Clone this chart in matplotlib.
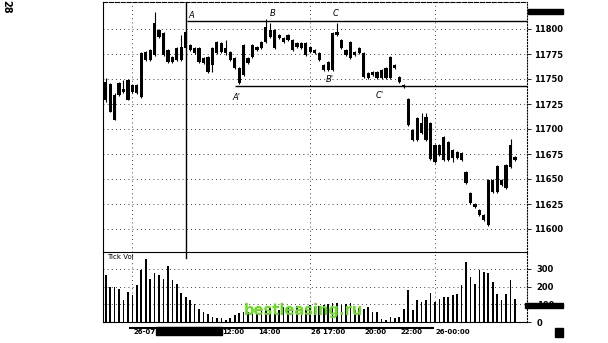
import matplotlib
matplotlib.use('Agg')
import matplotlib.pyplot as plt
from matplotlib.patches import Rectangle
from matplotlib.lines import Line2D
import numpy as np

# 15 minute bars, bar 0 = 05:30
opens = [11747, 11745, 11734, 11746, 11740, 11749, 11744, 11744, 11732, 11777,
         11769, 11774, 11799, 11796, 11779, 11772, 11769, 11769, 11781, 11784,
         11781, 11781, 11771, 11772, 11764, 11776, 11777, 11781, 11777, 11771,
         11761, 11754, 11771, 11772, 11779, 11781, 11787, 11799, 11799, 11794,
         11791, 11789, 11789, 11786, 11786, 11786, 11782, 11779, 11776, 11764,
         11759, 11759, 11797, 11789, 11779, 11787, 11777, 11781, 11776, 11756,
         11757, 11757, 11759, 11761, 11772, 11764, 11752, 11744, 11730, 11699,
         11689, 11706, 11689, 11706, 11684, 11684, 11669, 11687, 11679, 11677,
         11676, 11657, 11636, 11625, 11619, 11614, 11604, 11637, 11637, 11649,
         11641, 11662, 11672]
closes = [11729, 11717, 11709, 11734, 11737, 11729, 11737, 11736, 11776, 11769,
          11779, 11806, 11792, 11774, 11767, 11767, 11781, 11782, 11797, 11779,
          11776, 11767, 11766, 11757, 11781, 11787, 11786, 11776, 11769, 11761,
          11746, 11784, 11766, 11784, 11782, 11787, 11802, 11792, 11781, 11791,
          11787, 11794, 11779, 11782, 11781, 11774, 11777, 11776, 11769, 11759,
          11767, 11796, 11794, 11781, 11774, 11771, 11774, 11776, 11752, 11751,
          11754, 11751, 11751, 11751, 11751, 11761, 11747, 11742, 11704, 11689,
          11711, 11696, 11712, 11670, 11667, 11674, 11692, 11669, 11671, 11671,
          11669, 11646, 11626, 11622, 11614, 11609, 11649, 11649, 11663, 11644,
          11664, 11684, 11669]
highs = [11751, 11746, 11736, 11747, 11749, 11750, 11745, 11745, 11777, 11778,
         11780, 11817, 11800, 11797, 11780, 11773, 11782, 11794, 11798, 11785,
         11782, 11782, 11772, 11773, 11782, 11788, 11787, 11789, 11778, 11772,
         11762, 11785, 11772, 11785, 11783, 11788, 11810, 11806, 11800, 11795,
         11792, 11795, 11790, 11787, 11787, 11787, 11783, 11780, 11777, 11765,
         11768, 11797, 11806, 11790, 11780, 11788, 11778, 11782, 11777, 11757,
         11758, 11758, 11760, 11762, 11773, 11765, 11753, 11745, 11731, 11700,
         11712, 11716, 11716, 11707, 11685, 11685, 11693, 11688, 11680, 11678,
         11677, 11658, 11637, 11626, 11620, 11615, 11650, 11650, 11664, 11650,
         11665, 11690, 11673]
lows = [11727, 11717, 11709, 11733, 11736, 11729, 11736, 11735, 11731, 11768,
        11768, 11773, 11791, 11773, 11766, 11766, 11768, 11768, 11780, 11778,
        11775, 11766, 11765, 11756, 11757, 11775, 11776, 11774, 11768, 11760,
        11745, 11753, 11765, 11771, 11778, 11780, 11786, 11791, 11780, 11790,
        11786, 11788, 11778, 11781, 11780, 11773, 11776, 11775, 11768, 11758,
        11758, 11758, 11793, 11780, 11773, 11770, 11773, 11775, 11751, 11750,
        11753, 11750, 11750, 11750, 11750, 11760, 11746, 11741, 11703, 11688,
        11688, 11695, 11688, 11669, 11666, 11673, 11668, 11668, 11667, 11670,
        11668, 11645, 11625, 11621, 11613, 11608, 11603, 11636, 11636, 11643,
        11640, 11661, 11668]
tick_vol = [264, 198, 198, 189, 123, 170, 151, 208, 296, 353,
            240, 277, 268, 240, 315, 236, 217, 164, 142, 126,
            104, 75, 57, 47, 30, 21, 21, 11, 21, 40,
            49, 58, 58, 55, 45, 60, 70, 80, 75, 70,
            85, 80, 75, 90, 85, 80, 95, 85, 90, 95,
            100, 105, 110, 95, 100, 106, 68, 77, 72, 85,
            58, 57, 19, 11, 30, 21, 30, 72, 183, 68,
            126, 113, 123, 164, 113, 132, 142, 142, 151, 157,
            208, 340, 255, 217, 292, 283, 274, 226, 160, 123,
            160, 236, 132]

time_ticks = [6, 26, 34, 46, 58, 66, 74]
time_labels = ['26-07', '12:00', '14:00', '26 17:00', '20:00', '22:00', '26-00:00']
price_ticks = [11600, 11625, 11650, 11675, 11700, 11725, 11750, 11775, 11800]
vol_ticks = [0, 100, 200, 300]

W, H = 608, 343
def fx(x):
    return x / W
def fy(y):
    return 1 - y / H

fig = plt.figure(figsize=(6.08, 3.43), dpi=100)
ax = fig.add_axes([fx(103), fy(252), fx(527) - fx(103), fy(2) - fy(252)])
axv = fig.add_axes([fx(103), fy(322), fx(527) - fx(103), fy(252) - fy(322)], sharex=ax)

idx = np.arange(len(opens))
o = np.array(opens)
c = np.array(closes)
body_lo = np.minimum(o, c)
body_h = np.maximum(np.abs(o - c), 1.5)

ax.vlines(idx, lows, highs, color='black', lw=0.8)
ax.bar(idx, body_h, bottom=body_lo, width=0.72, color='black')

# grid
for p in price_ticks:
    ax.axhline(p, color='black', lw=0.6, ls=(0, (1, 4)))
for t in [6, 46, 74]:
    ax.axvline(t, color='black', lw=0.6, ls=(0, (1, 4)))
    axv.axvline(t, color='black', lw=0.6, ls=(0, (1, 4)))
for v in [100, 200, 300]:
    axv.axhline(v, color='black', lw=0.6, ls=(0, (1, 4)))

# trend lines
ax.axvline(18, color='black', lw=1.0)
axv.axvline(18, ymin=(322 - 258) / 70, ymax=1, color='black', lw=1.0)
ax.hlines(11808, 18.2, 94.7, color='black', lw=1.0)
ax.hlines(11743, 29.0, 94.7, color='black', lw=1.0)

lbl = dict(fontsize=6, style='italic', ha='center', va='center')
ax.text(19.3, 11814, 'A', **lbl)
ax.text(37.6, 11816, 'B', **lbl)
ax.text(51.7, 11816, 'C', **lbl)
ax.text(29.3, 11732, "A'", **lbl)
ax.text(50.4, 11750, "B'", **lbl)
ax.text(61.6, 11733, "C'", **lbl)

ax.set_xlim(-0.6, 94.7)
ax.set_ylim(11577, 11827)
ax.yaxis.tick_right()
ax.set_yticks(price_ticks)
ax.set_yticklabels([str(p) for p in price_ticks], fontsize=6, fontweight='bold')
ax.tick_params(axis='y', length=3, width=0.6, pad=2)
ax.tick_params(axis='x', bottom=False, labelbottom=False)

axv.bar(idx, tick_vol, width=0.38, color='black')
axv.set_ylim(0, 395)
axv.yaxis.tick_right()
axv.set_yticks(vol_ticks)
axv.set_yticklabels([str(v) for v in vol_ticks], fontsize=6, fontweight='bold')
axv.tick_params(axis='y', length=3, width=0.6, pad=4)
axv.set_xticks(time_ticks)
axv.tick_params(axis='x', length=0, labelbottom=False)
axv.text(0.01, 0.97, 'Tick Vol', transform=axv.transAxes, fontsize=5, va='top')

for s in ax.spines.values():
    s.set_linewidth(0.8)
ax.spines['right'].set_linestyle(':')
ax.spines['top'].set_linestyle('--')
ax.spines['bottom'].set_visible(False)
for s in axv.spines.values():
    s.set_linewidth(0.8)
axv.spines['right'].set_linestyle(':')

# time labels under the volume panel
for t, l in zip(time_ticks, time_labels):
    axv.text(t + 0.2, -0.14, l, transform=axv.get_xaxis_transform(),
             fontsize=5, fontweight='bold', ha='left', va='center', clip_on=False)

fig.add_artist(Line2D([fx(130), fx(433)], [fy(327.5), fy(327.5)], color='black', lw=1.5))
fig.add_artist(Rectangle((fx(156), fy(335)), fx(222) - fx(156), fy(327) - fy(335), color='black'))
fig.add_artist(Rectangle((fx(528), fy(14)), fx(563) - fx(528), fy(9) - fy(14), color='black'))
fig.add_artist(Rectangle((fx(525), fy(308)), fx(563) - fx(525), fy(303) - fy(308), color='black'))
fig.add_artist(Rectangle((fx(555), fy(337)), fx(563) - fx(555), fy(328) - fy(337), color='black'))

fig.text(fx(6), fy(7), '28', rotation=-90, fontsize=7, fontweight='bold', ha='center', va='center')
fig.text(fx(303), fy(311), 'bestleasing.ru', color='#66dd1e', fontsize=10.5,
         fontweight='bold', ha='center', va='center')

fig.savefig('out.png', dpi=100)
